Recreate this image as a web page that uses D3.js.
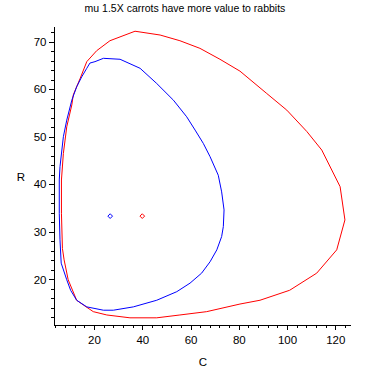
<!DOCTYPE html>
<html>
<head>
<meta charset="utf-8">
<script src="https://cdn.jsdelivr.net/npm/d3@7"></script>
<style>
  body { margin: 0; background: #fff; }
  text { font-family: "Liberation Sans", Arial, sans-serif; fill: #000; }
</style>
</head>
<body>
<div id="chart"></div>
<script>
const W = 370;
const H = 370;

// red closed orbit (mu 1.5X), clockwise from the top
const redC = [37.0, 47.4, 55.6, 63.9, 72.2, 80.5, 91.6, 99.9, 108.2, 114.4, 122.0, 124.0, 120.6, 112.3, 101.1, 88.8, 80.5, 66.7, 55.6, 46.0, 34.9, 25.3, 19.7, 15.6, 12.8, 9.3, 7.6, 6.9, 6.5, 6.5, 7.3, 8.0, 8.7, 10.8, 11.4, 14.2, 17.0, 21.1, 26.6];
const redR = [72.2, 71.4, 70.2, 68.6, 66.3, 63.8, 59.1, 55.6, 51.1, 47.2, 39.5, 32.5, 26.2, 21.3, 17.7, 15.6, 14.8, 13.2, 12.5, 11.9, 11.9, 12.5, 13.2, 14.6, 15.6, 19.9, 24.1, 26.5, 33.9, 40.9, 46.5, 49.3, 52.1, 56.7, 58.8, 62.2, 65.8, 68.1, 70.2];

// blue closed orbit, clockwise from the top
const blueC = [23.9, 30.8, 39.1, 46.0, 52.9, 58.4, 61.9, 65.3, 68.1, 71.5, 72.9, 73.9, 73.6, 72.9, 70.9, 68.1, 64.6, 59.8, 54.3, 46.0, 36.3, 28.0, 23.9, 17.0, 12.8, 10.3, 8.7, 6.4, 5.9, 5.6, 5.6, 5.9, 7.3, 8.7, 10.8, 12.8, 14.9, 17.0, 18.3, 20.4];
const blueR = [66.5, 66.3, 64.4, 61.2, 57.7, 54.2, 51.4, 48.6, 45.8, 41.9, 38.4, 34.6, 31.1, 29.0, 26.2, 23.7, 21.3, 19.2, 17.4, 15.6, 14.2, 13.5, 13.5, 14.2, 15.6, 17.7, 19.9, 23.4, 28.3, 33.9, 40.9, 43.7, 50.0, 53.5, 57.7, 60.5, 62.6, 64.4, 65.5, 65.8];

// equilibrium points
const eqC = [26.7, 40.0];
const eqR = [33.3, 33.3];
const eqColor = ["blue", "red"];

const xMajor = [20, 40, 60, 80, 100, 120];
const xMinor = d3.range(4, 126, 4);
const yMajor = [20, 30, 40, 50, 60, 70];
const yMinor = d3.range(12, 74, 2);

const title = "mu 1.5X carrots have more value to rabbits";

const svg = d3.select("#chart").append("svg")
    .attr("width", W)
    .attr("height", H);

const x = d3.scaleLinear().domain([3.0, 126.1]).range([53, 350]);
const y = d3.scaleLinear().domain([10.6, 73.3]).range([324, 26]);

// axes: minor ticks first, then major ticks with labels
svg.append("g")
    .attr("transform", "translate(0,324.5)")
    .call(d3.axisBottom(x).tickValues(xMinor).tickSize(3).tickSizeOuter(0).tickFormat(""));
svg.append("g")
    .attr("transform", "translate(0,324.5)")
    .call(d3.axisBottom(x).tickValues(xMajor).tickSize(5).tickSizeOuter(0).tickPadding(6))
    .call(g => g.selectAll("text").attr("font-size", 11.5));

svg.append("g")
    .attr("transform", "translate(53.5,0)")
    .call(d3.axisLeft(y).tickValues(yMinor).tickSize(3).tickSizeOuter(0).tickFormat(""));
svg.append("g")
    .attr("transform", "translate(53.5,0)")
    .call(d3.axisLeft(y).tickValues(yMajor).tickSize(5).tickSizeOuter(0).tickPadding(2))
    .call(g => g.selectAll("text").attr("font-size", 11.5));

svg.selectAll(".domain, .tick line").attr("stroke", "#000").attr("shape-rendering", "crispEdges");

const line = d3.line()
    .x(d => x(d[0]))
    .y(d => y(d[1]))
    .curve(d3.curveLinearClosed);

svg.append("path")
    .datum(redC.map((c, i) => [c, redR[i]]))
    .attr("d", line)
    .attr("fill", "none")
    .attr("stroke", "#ff0000")
    .attr("stroke-width", 1);

svg.append("path")
    .datum(blueC.map((c, i) => [c, blueR[i]]))
    .attr("d", line)
    .attr("fill", "none")
    .attr("stroke", "#0000ff")
    .attr("stroke-width", 1);

// small diamond markers at the equilibria
svg.selectAll(".eq")
    .data(eqC.map((c, i) => ({c: c, r: eqR[i], col: eqColor[i]})))
    .enter().append("path")
    .attr("class", "eq")
    .attr("d", d3.symbol().type(d3.symbolDiamond2).size(14))
    .attr("transform", d => `translate(${x(d.c)},${y(d.r)})`)
    .attr("fill", "none")
    .attr("stroke", d => d.col)
    .attr("stroke-width", 1);

svg.append("text")
    .attr("x", 185)
    .attr("y", 12)
    .attr("text-anchor", "middle")
    .attr("font-size", 10.5)
    .text(title);

svg.append("text")
    .attr("x", 21)
    .attr("y", 181)
    .attr("text-anchor", "middle")
    .attr("font-size", 11.5)
    .text("R");

svg.append("text")
    .attr("x", 203)
    .attr("y", 366)
    .attr("text-anchor", "middle")
    .attr("font-size", 11.5)
    .text("C");
</script>
</body>
</html>
